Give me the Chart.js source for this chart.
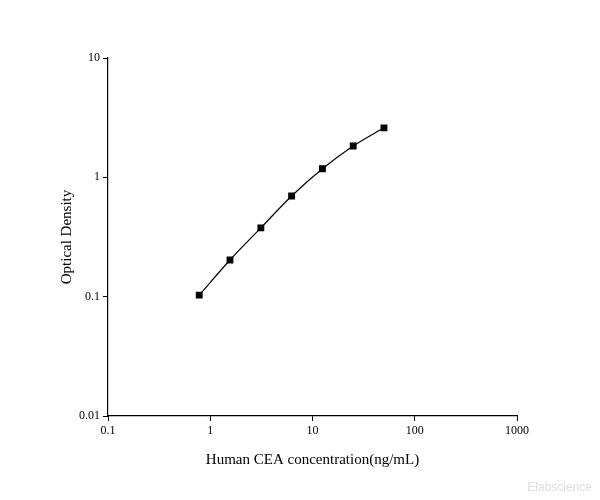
<!DOCTYPE html>
<html><head><meta charset="utf-8">
<script src="https://cdn.jsdelivr.net/npm/chart.js@4/dist/chart.umd.min.js"></script>
<style>html,body{margin:0;padding:0;background:#fff}#w{position:relative;width:600px;height:500px}</style>
</head><body><div id="w"><canvas id="c" width="600" height="500"></canvas>
<div style="position:absolute;right:8px;bottom:6px;font:12px 'Liberation Sans';color:#ddd">Elabscience</div></div>
<script>
const concentrations=[0.78,1.56,3.125,6.25,12.5,25,50];
const opticalDensity=[0.103,0.203,0.377,0.698,1.18,1.83,2.6];
const xTicks=[0.1,1,10,100,1000];
const yTicks=[0.01,0.1,1,10];
const font={family:"'Liberation Serif'",size:12};
const titleFont={family:"'Liberation Serif'",size:15};
new Chart(document.getElementById('c'),{
type:'line',
data:{datasets:[{data:concentrations.map((x,i)=>({x,y:opticalDensity[i]})),borderColor:'#000',borderWidth:1.2,
pointStyle:'rect',pointRadius:4,pointBackgroundColor:'#000',pointBorderColor:'#000',tension:0.3,cubicInterpolationMode:'monotone'}]},
options:{responsive:false,animation:false,plugins:{legend:{display:false},tooltip:{enabled:false}},
layout:{padding:{left:54,top:58,right:83,bottom:27}},
scales:{
x:{type:'logarithmic',min:0.1,max:1000,afterBuildTicks:s=>{s.ticks=xTicks.map(v=>({value:v}))},
afterFit:s=>{s.height=57},
border:{color:'#000',width:1.2},grid:{drawOnChartArea:false,color:'#000',tickLength:5},
ticks:{color:'#000',font,callback:v=>String(v)},
title:{display:true,text:'Human CEA concentration(ng/mL)',color:'#000',font:titleFont,padding:{top:4}}},
y:{type:'logarithmic',min:0.01,max:10,afterBuildTicks:s=>{s.ticks=yTicks.map(v=>({value:v}))},
afterFit:s=>{s.width=54},
border:{color:'#000',width:1.2},grid:{drawOnChartArea:false,color:'#000',tickLength:5},
ticks:{color:'#000',font,callback:v=>String(v)},
title:{display:true,text:'Optical Density',color:'#000',font:titleFont,padding:{bottom:0}}}
}}});
</script></body></html>
